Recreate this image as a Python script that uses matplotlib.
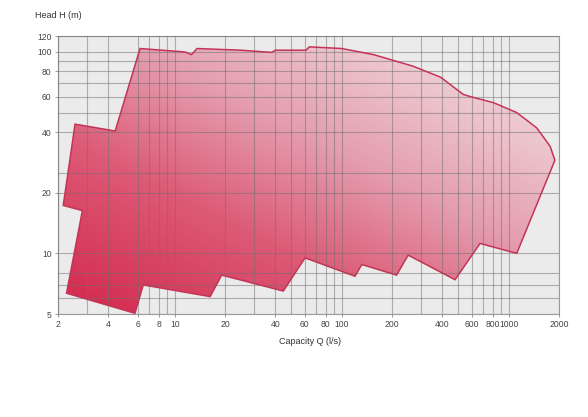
import numpy as np
import matplotlib
matplotlib.use("Agg")
import matplotlib.pyplot as plt
from matplotlib.patches import Polygon
from matplotlib.colors import LinearSegmentedColormap
from matplotlib.ticker import FixedLocator, NullFormatter

# =========================
# DATA (pump range outline, clockwise from top-left)
# =========================
capacity = [2.53, 4.4, 6.2, 11.5, 12.6, 13.6, 25, 38, 40, 61, 64, 100, 155, 267,
            390, 535, 590, 810, 1117, 1470, 1770, 1890,
            1117, 673, 477, 250, 213, 132, 120, 60.3, 44.7, 19.1, 16.3,
            6.48, 5.78, 2.25, 2.8, 2.15]
head = [43.8, 40.5, 104, 100, 97, 104, 102, 99.5, 102, 102, 106, 104, 97, 85,
        75, 61.5, 60, 56, 50, 42, 34, 29,
        10, 11.2, 7.4, 9.8, 7.8, 8.8, 7.7, 9.5, 6.5, 7.8, 6.1,
        6.97, 5.04, 6.34, 16.3, 17.3]

x_labels = [2, 4, 6, 8, 10, 20, 40, 60, 80, 100, 200, 400, 600, 800, 1000, 2000]
x_minor = [3, 7, 9, 30, 50, 70, 90, 300, 500, 700, 900]
y_labels = [5, 10, 20, 40, 60, 80, 100, 120]
y_minor = [6, 7, 8, 25, 50, 70, 90]

plt.rcParams["font.family"] = ["Liberation Sans", "DejaVu Sans"]

fig = plt.figure(figsize=(5.88, 4.17), dpi=100)
ax = fig.add_axes([58 / 588, 1 - 314 / 417, (559 - 58) / 588, (314 - 36) / 417])
ax.set_facecolor("#ebebeb")
ax.set_xscale("log")
ax.set_yscale("log")
ax.set_xlim(2, 2000)
ax.set_ylim(5, 120)

# gradient fill clipped to the outline
cmap = LinearSegmentedColormap.from_list(
    "pump", [(0, "#d3264c"), (0.35, "#dd5a76"), (0.6, "#e49dae"),
             (0.8, "#ecc2cb"), (1, "#f3dde1")])
xf, yf = np.meshgrid(np.linspace(0, 1, 300), np.linspace(0, 1, 300))
grad = np.clip(0.5 * xf + 0.55 * yf, 0, 1)
im = ax.imshow(grad, cmap=cmap, extent=[0, 1, 0, 1], origin="lower",
               transform=ax.transAxes, aspect="auto", zorder=1, vmin=0, vmax=1)
poly = Polygon(np.column_stack([capacity, head]), closed=True,
               facecolor="none", edgecolor="#c33556", lw=1.1, zorder=3)
ax.add_patch(poly)
im.set_clip_path(poly)

# ticks and grid
ax.xaxis.set_major_locator(FixedLocator(x_labels))
ax.xaxis.set_minor_locator(FixedLocator(x_minor))
ax.xaxis.set_minor_formatter(NullFormatter())
ax.set_xticklabels([str(v) for v in x_labels])
ax.yaxis.set_major_locator(FixedLocator(y_labels))
ax.yaxis.set_minor_locator(FixedLocator(y_minor))
ax.yaxis.set_minor_formatter(NullFormatter())
ax.set_yticklabels([str(v) for v in y_labels])
ax.tick_params(which="major", length=2.5, width=0.6, color="#888888",
               labelsize=6.2, labelcolor="#444444", pad=2)
ax.tick_params(which="minor", length=0)
ax.set_axisbelow(False)
ax.grid(which="both", color="#6f6f6f", alpha=0.5, lw=0.8)
for s in ax.spines.values():
    s.set_color("#9a9a9a")
    s.set_linewidth(0.8)

fig.text(35 / 588, 1 - 15 / 417, "Head H (m)", fontsize=6.5, color="#333333",
         ha="left", va="center")
fig.text(310 / 588, 1 - 341 / 417, "Capacity Q (l/s)", fontsize=6.5,
         color="#333333", ha="center", va="center")

fig.savefig("out.png", dpi=100)
